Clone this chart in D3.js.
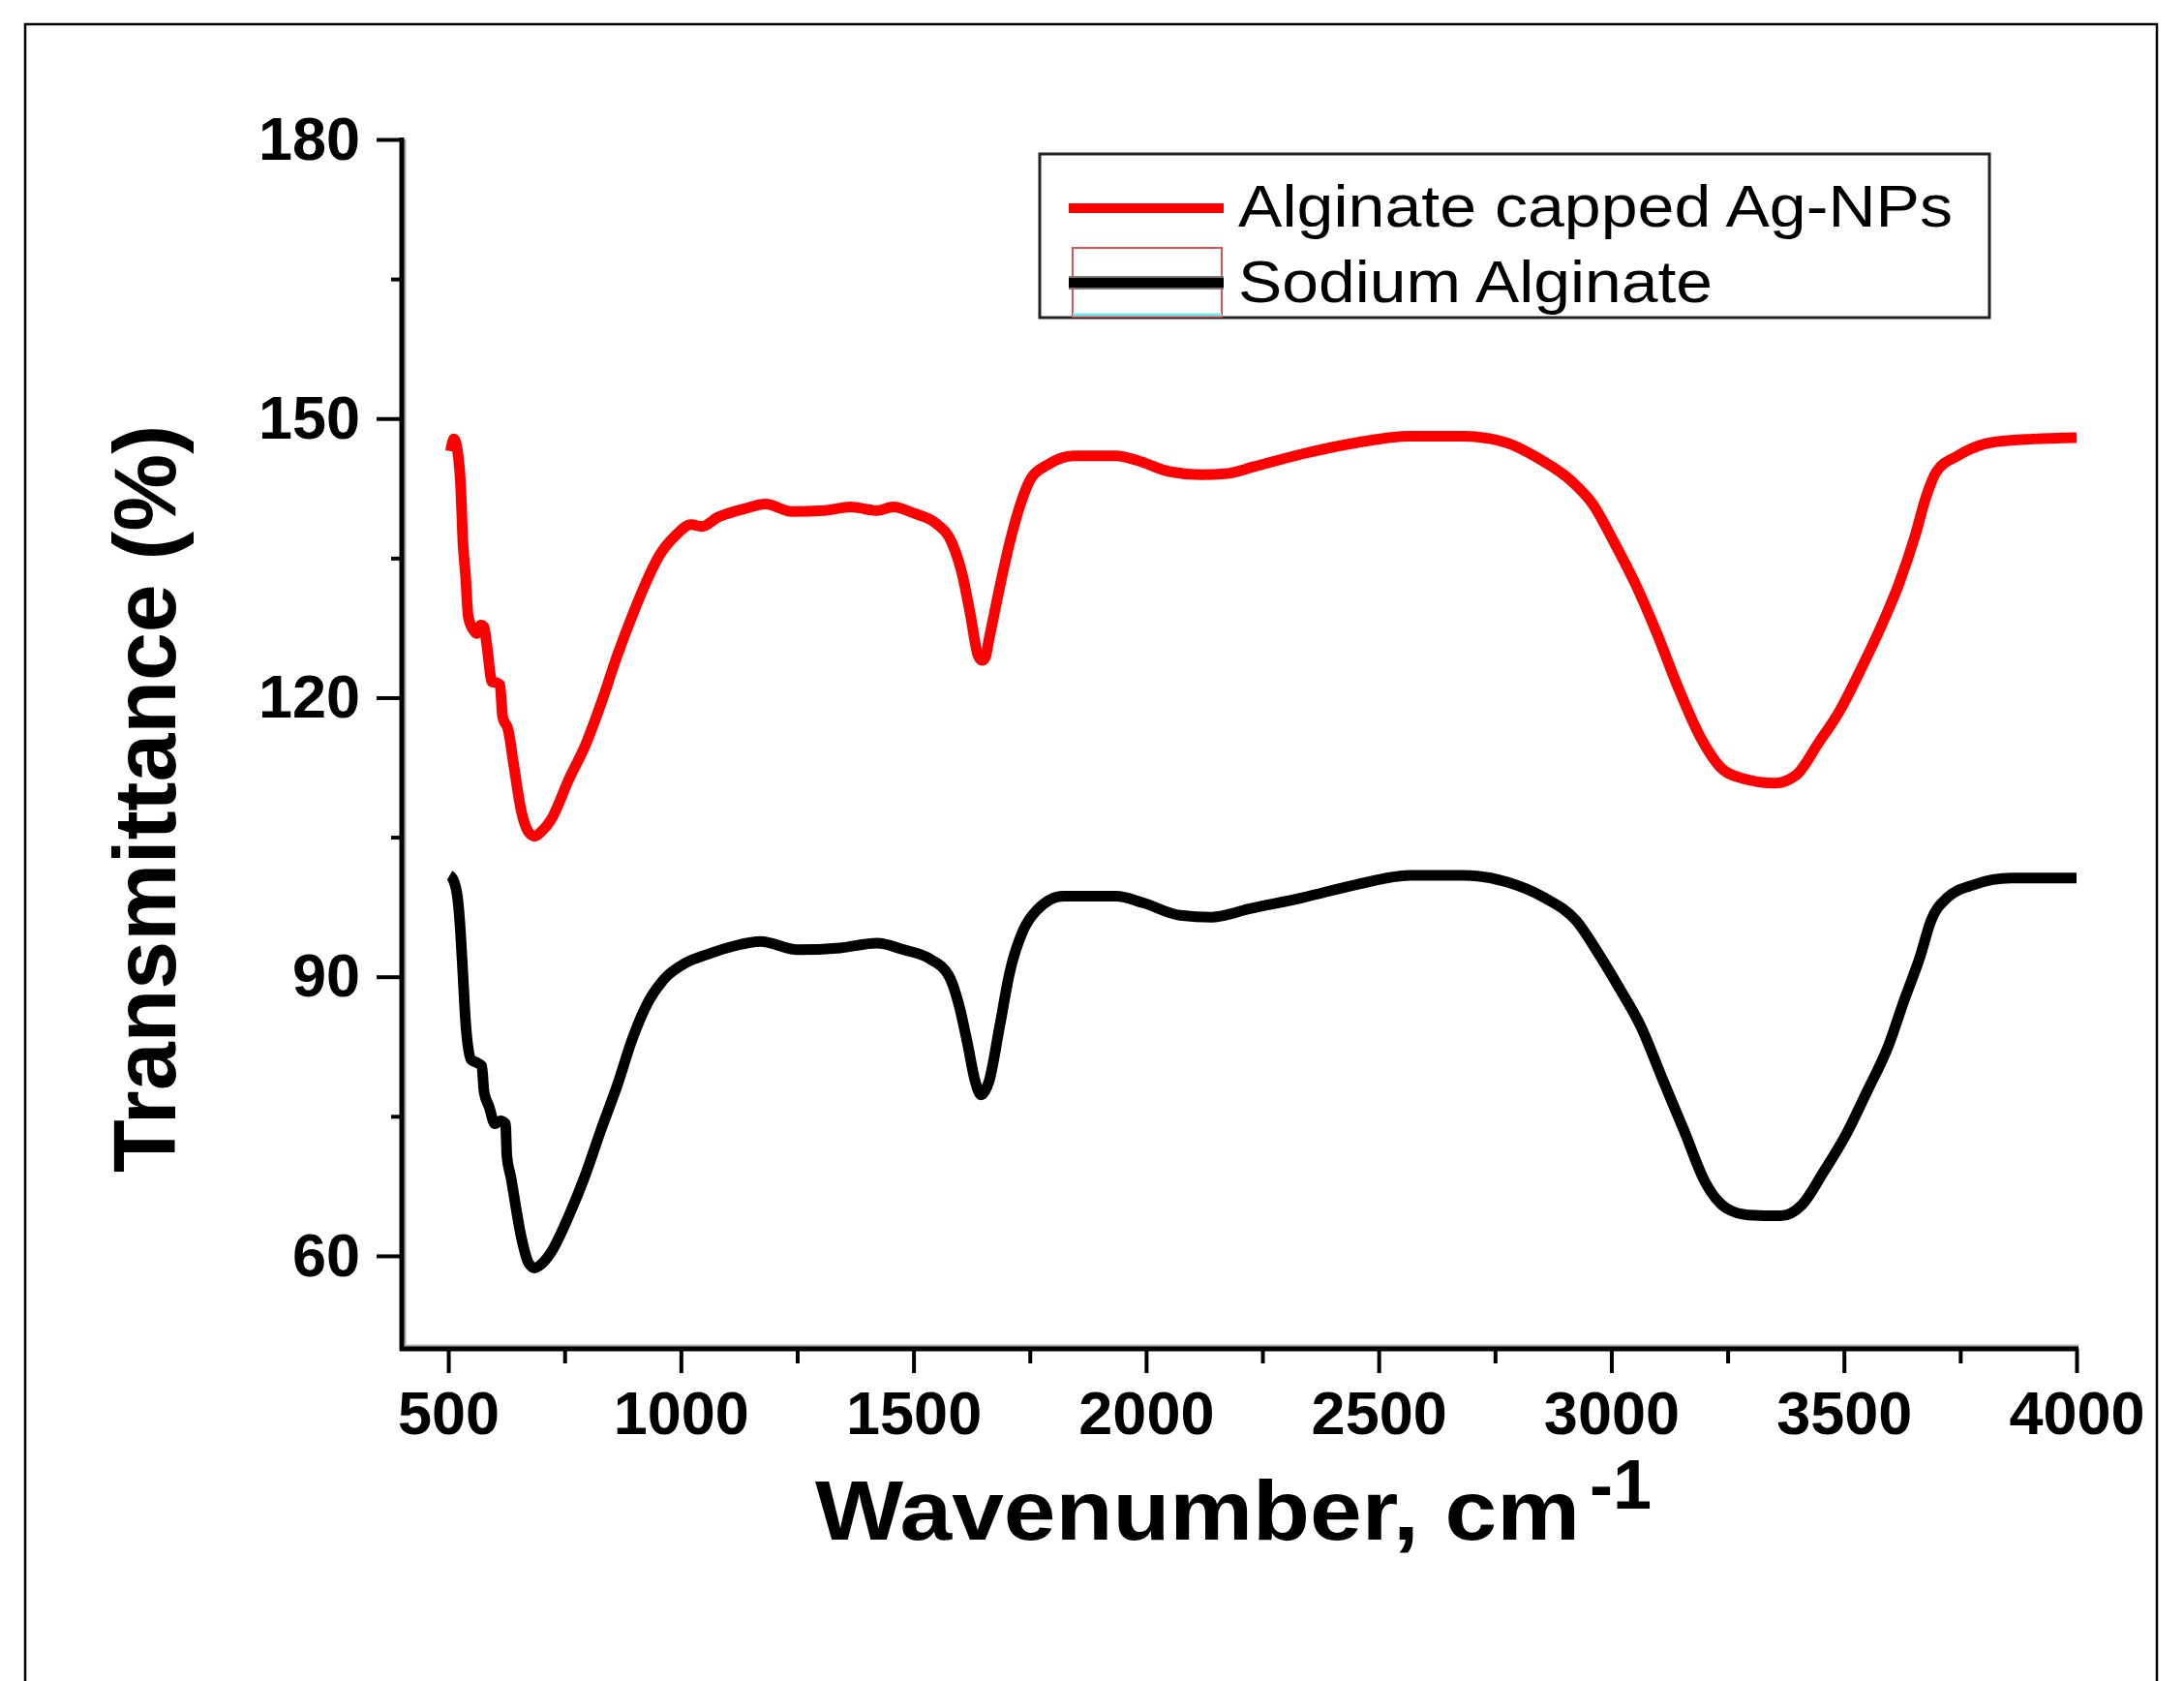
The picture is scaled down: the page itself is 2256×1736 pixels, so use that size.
<!DOCTYPE html>
<html>
<head>
<meta charset="utf-8">
<script src="https://cdn.jsdelivr.net/npm/d3@7"></script>
<style>
  html, body { margin: 0; padding: 0; background: #fff; }
  svg { display: block; }
  text { font-family: "Liberation Sans", Arial, sans-serif; }
</style>
</head>
<body>
<script>
// ---------- DATA ----------
const seriesNames = ["Alginate capped Ag-NPs", "Sodium Alginate"];
const seriesColors = ["#ff0000", "#000000"];

const agnpWavenumber = [505,512,520,526,532,537,543,555,562,570,577,583,594,604,611,617,629,640,657,672,686,700,720,760,794,828,863,897,920,954,988,1022,1045,1080,1137,1182,1239,1308,1365,1422,1456,1502,1548,1582,1605,1622,1639,1648,1655,1662,1685,1707,1730,1753,1787,1844,1936,1981,2050,2118,2175,2230,2336,2452,2567,2683,2775,2844,2914,2960,3006,3052,3098,3144,3191,3237,3283,3352,3398,3445,3491,3537,3583,3618,3653,3676,3699,3745,3814,3906,4000];
const agnpTransmittance = [146.5,147.8,146.5,143.3,136.3,133.2,128.7,127.2,126.9,127.8,127.6,125.6,121.7,121.6,121.4,117.9,116.5,113,107.8,105.6,105.1,105.6,106.8,111.3,114.8,119.3,124.5,129,131.8,135.3,137.4,138.6,138.4,139.4,140.3,140.8,140,140.1,140.5,140.1,140.5,139.8,138.75,136.7,133.2,129,124.5,124,124.4,126.2,131.8,136.7,140.8,143.6,145,146,146,145.5,144.3,143.96,144.1,144.8,146.2,147.4,148.1,148.1,147.4,145.7,143.3,140.8,136.7,132.2,126.9,121.05,115.8,112.4,111.3,110.8,111.7,115.1,118.6,123.1,128,132.2,137.4,141.5,144.3,146,147.4,147.8,147.95];

const naAlgWavenumber = [503,510,520,526,532,537,549,560,572,577,588,600,612,623,626,634,657,672,686,700,720,760,794,828,863,897,931,965,1011,1057,1114,1171,1251,1342,1422,1479,1536,1576,1599,1616,1633,1645,1662,1685,1707,1736,1764,1822,1936,1993,2073,2141,2221,2336,2452,2567,2683,2775,2856,2925,2971,3017,3064,3110,3156,3202,3248,3294,3364,3410,3456,3502,3549,3595,3629,3664,3687,3722,3780,3860,4000];
const naAlgTransmittance = [100.9,100.5,98.5,95,89.8,85.3,81.1,80.8,80.4,77.6,76,74.2,74.5,74.2,70.7,68.6,62,59.3,58.7,59.1,60.3,64.4,68.6,73.5,78.3,83.5,87.4,89.8,91.5,92.4,93.3,93.8,92.9,93.1,93.6,92.9,91.9,90.1,86.7,82.85,78.7,77.3,78.7,84.6,90.5,95,97.1,98.65,98.65,97.95,96.6,96.4,97.3,98.5,99.9,100.9,100.9,100.2,98.5,96.0,92.6,88.8,84.6,79.0,73.5,67.9,65.1,64.4,64.3,65.5,69,72.8,77.6,82.5,87.4,92.2,96.0,98.5,99.9,100.6,100.6];

const xMajorTicks = [500,1000,1500,2000,2500,3000,3500,4000];
const xMinorTicks = [750,1250,1750,2250,2750,3250,3750];
const yMajorTicks = [60,90,120,150,180];
const yMinorTicks = [75,105,135,165];
const xDomain = [400, 4000];
const yDomain = [50, 180];
const xTitle = "Wavenumber, cm";
const xTitleSup = "-1";
const yTitle = "Transmittance (%)";

// ---------- LAYOUT ----------
const W = 2256, H = 1736;
const plot = { left: 415, right: 2145, top: 144, bottom: 1393 };

const svg = d3.select("body").append("svg").attr("width", W).attr("height", H);
svg.append("rect").attr("width", W).attr("height", H).attr("fill", "#fff");

// outer frame
svg.append("rect").attr("x", 26).attr("y", 25).attr("width", 2202).attr("height", 1760)
  .attr("fill", "none").attr("stroke", "#000").attr("stroke-width", 2.5);

const x = d3.scaleLinear().domain(xDomain).range([plot.left, plot.right]);
const y = d3.scaleLinear().domain(yDomain).range([plot.bottom, plot.top]);

// ---------- AXES ----------
const fontTick = 63;

// X minor ticks
svg.append("g").attr("transform", `translate(0,${plot.bottom})`)
  .call(d3.axisBottom(x).tickValues(xMinorTicks).tickSize(15).tickFormat(""))
  .call(g => g.select(".domain").remove())
  .call(g => g.selectAll("line").attr("stroke", "#000").attr("stroke-width", 4));
// X major ticks
svg.append("g").attr("transform", `translate(0,${plot.bottom})`)
  .call(d3.axisBottom(x).tickValues(xMajorTicks).tickSize(25).tickPadding(18).tickFormat(d3.format("d")))
  .call(g => g.select(".domain").remove())
  .call(g => g.selectAll("line").attr("stroke", "#000").attr("stroke-width", 4))
  .call(g => g.selectAll("text").attr("font-size", fontTick).attr("font-weight", "bold")
     .attr("fill", "#000").attr("font-family", "Liberation Sans, Arial, sans-serif"));

// Y minor ticks
svg.append("g").attr("transform", `translate(${plot.left},0)`)
  .call(d3.axisLeft(y).tickValues(yMinorTicks).tickSize(11).tickFormat(""))
  .call(g => g.select(".domain").remove())
  .call(g => g.selectAll("line").attr("stroke", "#000").attr("stroke-width", 4));
// Y major ticks
svg.append("g").attr("transform", `translate(${plot.left},0)`)
  .call(d3.axisLeft(y).tickValues(yMajorTicks).tickSize(26).tickPadding(17).tickFormat(d3.format("d")))
  .call(g => g.select(".domain").remove())
  .call(g => g.selectAll("line").attr("stroke", "#000").attr("stroke-width", 4))
  .call(g => g.selectAll("text").attr("font-size", fontTick).attr("font-weight", "bold")
     .attr("fill", "#000").attr("font-family", "Liberation Sans, Arial, sans-serif"));

// axis lines (with light grey shadow)
svg.append("line").attr("x1", plot.left + 3).attr("x2", plot.left + 3)
  .attr("y1", plot.top).attr("y2", plot.bottom).attr("stroke", "#aaa").attr("stroke-width", 3);
svg.append("line").attr("x1", plot.left).attr("x2", plot.right + 2)
  .attr("y1", plot.bottom - 3).attr("y2", plot.bottom - 3).attr("stroke", "#aaa").attr("stroke-width", 3);
svg.append("line").attr("x1", plot.left).attr("x2", plot.left)
  .attr("y1", plot.top - 2).attr("y2", plot.bottom + 2).attr("stroke", "#000").attr("stroke-width", 5);
svg.append("line").attr("x1", plot.left - 2).attr("x2", plot.right + 2)
  .attr("y1", plot.bottom).attr("y2", plot.bottom).attr("stroke", "#000").attr("stroke-width", 5);

// ---------- CURVES ----------
const line = d3.line().x(d => x(d[0])).y(d => y(d[1])).curve(d3.curveMonotoneX);
const series = [
  { name: seriesNames[1], color: seriesColors[1], data: d3.zip(naAlgWavenumber, naAlgTransmittance) },
  { name: seriesNames[0], color: seriesColors[0], data: d3.zip(agnpWavenumber, agnpTransmittance) }
];
svg.selectAll("path.curve").data(series).join("path")
  .attr("class", "curve")
  .attr("d", d => line(d.data))
  .attr("fill", "none")
  .attr("stroke", d => d.color)
  .attr("stroke-width", 11)
  .attr("stroke-linejoin", "round")
  .attr("stroke-linecap", "butt");

// ---------- TITLES ----------
svg.append("text")
  .attr("transform", `translate(181,825) rotate(-90)`)
  .attr("text-anchor", "middle")
  .attr("font-size", 90).attr("font-weight", "bold").attr("fill", "#000")
  .attr("textLength", 772).attr("lengthAdjust", "spacingAndGlyphs")
  .text(yTitle);

const xt = svg.append("text")
  .attr("x", 842).attr("y", 1590)
  .attr("font-size", 88).attr("font-weight", "bold").attr("fill", "#000");
xt.append("tspan").text(xTitle).attr("textLength", 790).attr("lengthAdjust", "spacingAndGlyphs");
svg.append("text").attr("x", 1642).attr("y", 1558)
  .attr("font-size", 72).attr("font-weight", "bold").attr("fill", "#000")
  .text(xTitleSup);

// ---------- LEGEND ----------
const lg = svg.append("g");
lg.append("rect").attr("x", 1074).attr("y", 159).attr("width", 981).attr("height", 169)
  .attr("fill", "#fff").attr("stroke", "#222").attr("stroke-width", 3);
// artifact frame around second symbol
lg.append("rect").attr("x", 1108).attr("y", 256).attr("width", 154).attr("height", 71)
  .attr("fill", "none").attr("stroke", "#e05050").attr("stroke-width", 2);
lg.append("line").attr("x1", 1108).attr("x2", 1262).attr("y1", 325).attr("y2", 325)
  .attr("stroke", "#66eeee").attr("stroke-width", 3);

const legendRows = [
  { label: seriesNames[0], color: seriesColors[0], y: 215, baseline: 234, len: 738 },
  { label: seriesNames[1], color: seriesColors[1], y: 292, baseline: 312, len: 490 }
];
legendRows.forEach((r, i) => {
  if (i === 1) {
    lg.append("line").attr("x1", 1104).attr("x2", 1264).attr("y1", r.y).attr("y2", r.y)
      .attr("stroke", "#777").attr("stroke-width", 14);
  }
  lg.append("line").attr("x1", 1104).attr("x2", 1264).attr("y1", r.y).attr("y2", r.y)
    .attr("stroke", r.color).attr("stroke-width", 10);
  lg.append("text").attr("x", 1279).attr("y", r.baseline)
    .attr("font-size", 62).attr("fill", "#000")
    .attr("textLength", r.len).attr("lengthAdjust", "spacingAndGlyphs")
    .text(r.label);
});
</script>
</body>
</html>
